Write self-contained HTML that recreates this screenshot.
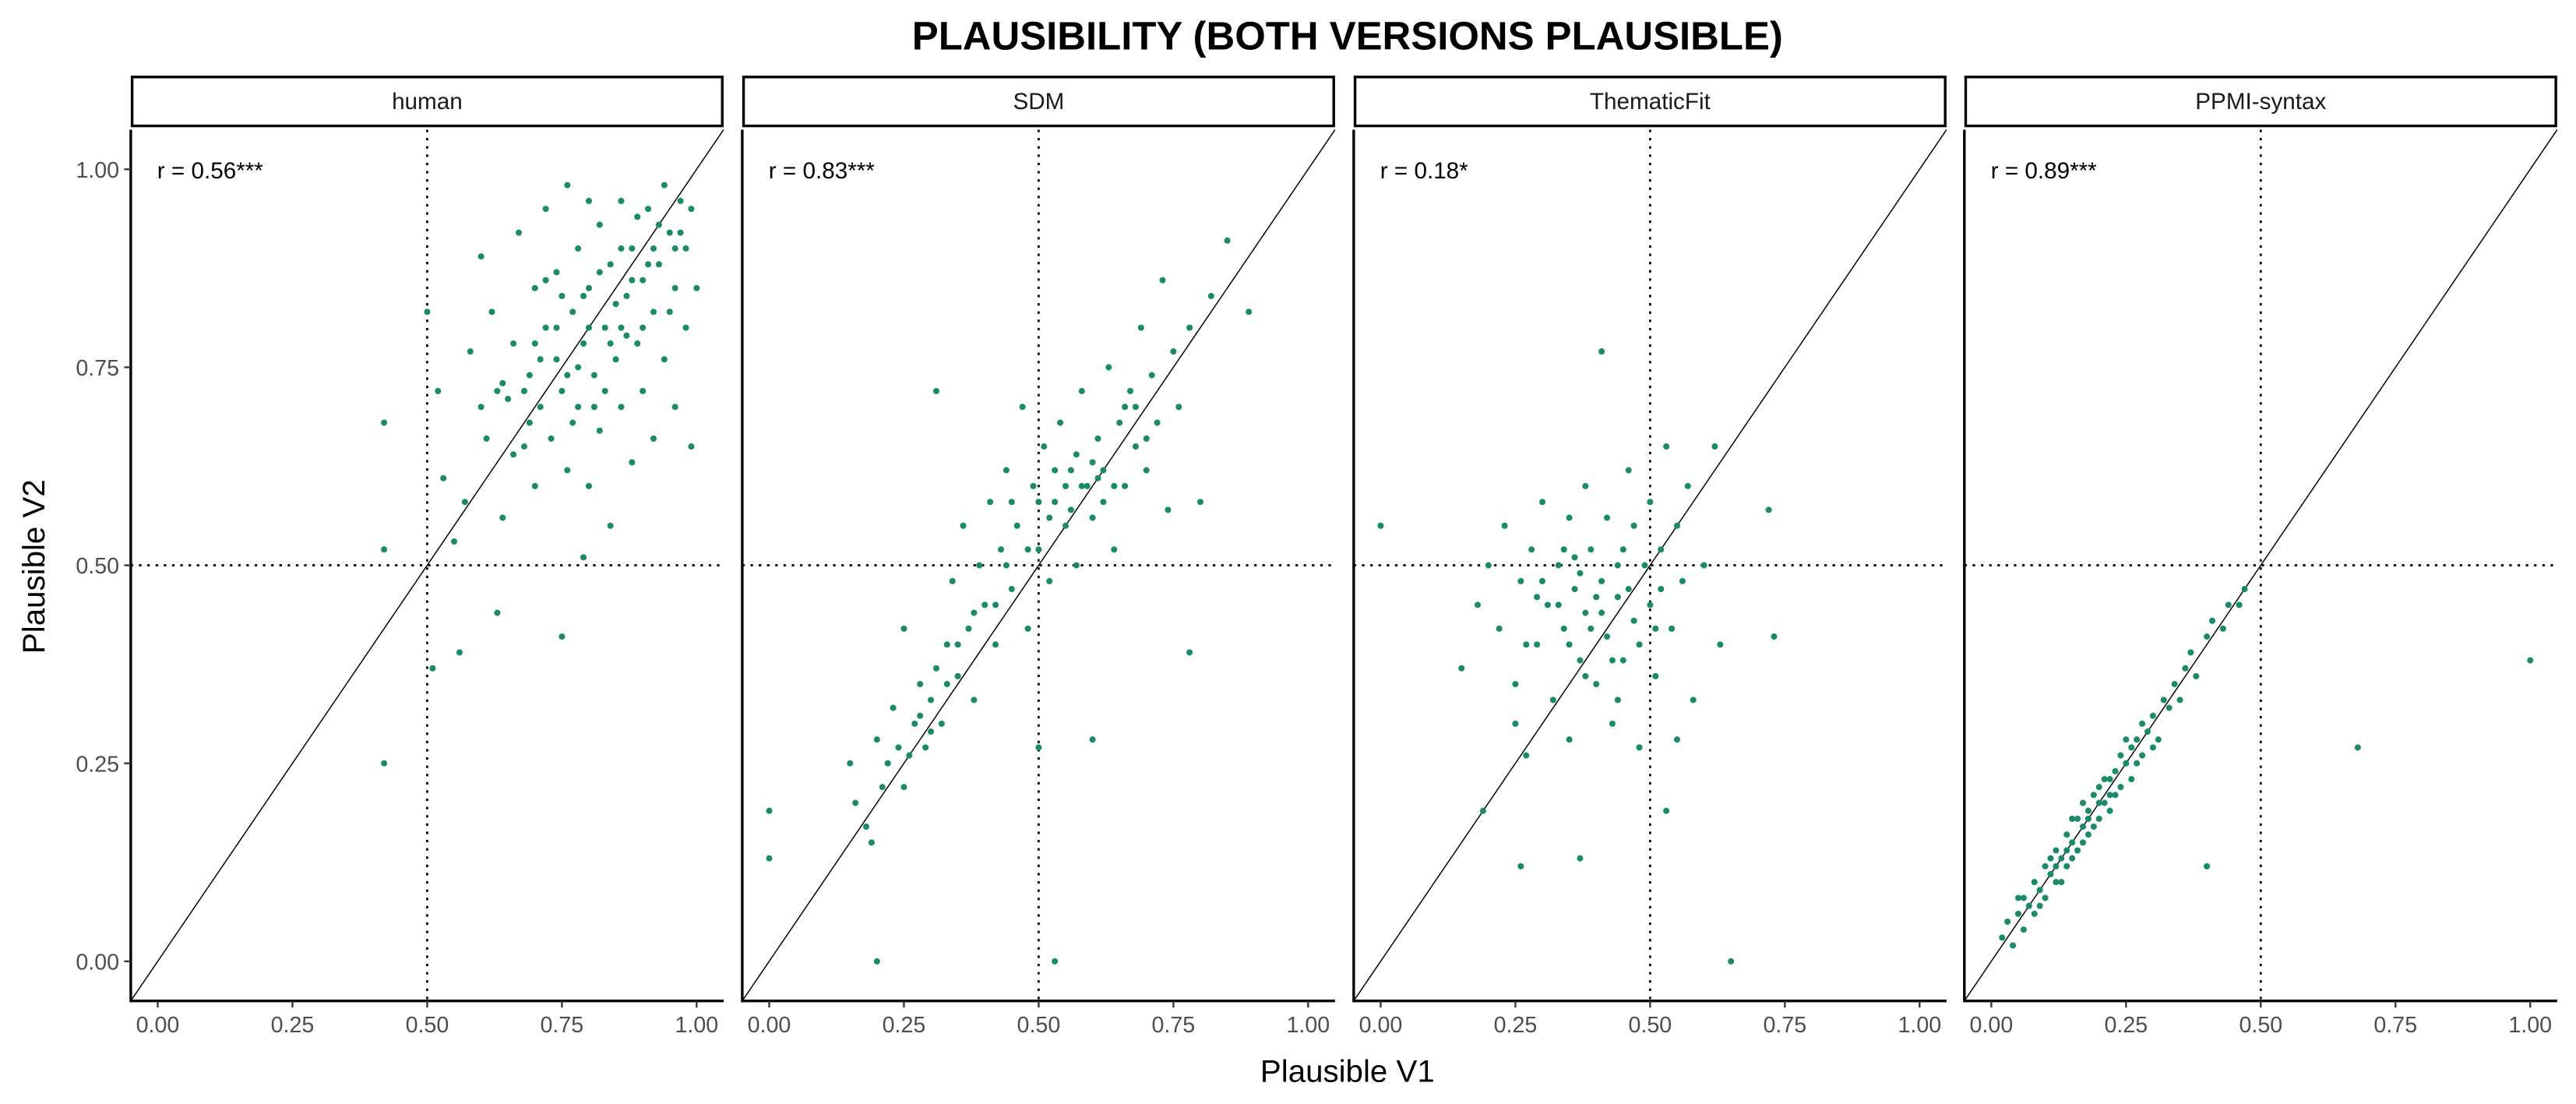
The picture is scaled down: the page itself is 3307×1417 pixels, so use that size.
<!DOCTYPE html>
<html><head><meta charset="utf-8"><style>
html,body{margin:0;padding:0;background:#fff;}
svg{display:block;font-family:"Liberation Sans",Arial,sans-serif;}
</style></head><body>
<svg id="chart" width="3307" height="1417" viewBox="0 0 1560 668.4" xmlns="http://www.w3.org/2000/svg">
<rect width="1560" height="668.4" fill="#fff"/>
<text x="816" y="30" text-anchor="middle" font-size="24" font-weight="bold">PLAUSIBILITY (BOTH VERSIONS PLAUSIBLE)</text>
<text x="816" y="655" text-anchor="middle" font-size="19">Plausible V1</text>
<text transform="translate(27,343) rotate(-90)" text-anchor="middle" font-size="19">Plausible V2</text>
<g id="panels"></g>
</svg>
<script>
const panelNames = ["human","SDM","ThematicFit","PPMI-syntax"];
const corrLabels = ["r = 0.56***","r = 0.83***","r = 0.18*","r = 0.89***"];
const tickValues = [0,0.25,0.5,0.75,1];
const tickLabels = ["0.00","0.25","0.50","0.75","1.00"];
const humanPts = [[0.42,0.68],[0.42,0.52],[0.42,0.25],[0.5,0.82],[0.51,0.37],[0.56,0.39],[0.63,0.44],[0.75,0.41],[0.79,0.51],
[0.52,0.72],[0.53,0.61],[0.55,0.53],[0.57,0.58],[0.58,0.77],[0.60,0.89],[0.60,0.70],[0.61,0.66],[0.62,0.82],[0.63,0.72],[0.64,0.56],[0.65,0.71],[0.66,0.78],[0.67,0.92],[0.68,0.65],[0.69,0.74],[0.70,0.85],[0.70,0.60],[0.71,0.70],[0.72,0.80],[0.72,0.95],[0.73,0.66],[0.74,0.76],[0.74,0.87],[0.75,0.72],[0.76,0.98],[0.76,0.62],[0.77,0.82],[0.78,0.70],[0.78,0.90],[0.79,0.78],[0.80,0.60],[0.80,0.85],[0.81,0.74],[0.82,0.93],[0.82,0.67],[0.83,0.80],[0.84,0.88],[0.84,0.55],[0.85,0.76],[0.86,0.96],[0.86,0.70],[0.87,0.84],[0.88,0.63],[0.88,0.90],[0.89,0.78],[0.90,0.86],[0.90,0.72],[0.91,0.95],[0.92,0.82],[0.92,0.66],[0.93,0.88],[0.94,0.76],[0.94,0.98],[0.95,0.92],[0.96,0.85],[0.96,0.70],[0.97,0.96],[0.98,0.90],[0.98,0.80],[0.99,0.65],[1.0,0.85],[0.85,0.83],[0.8,0.8],[0.75,0.84],[0.7,0.78],[0.88,0.86],[0.93,0.93],[0.68,0.72],[0.78,0.75],[0.83,0.72],[0.87,0.79],[0.91,0.88],[0.95,0.82],[0.72,0.86],[0.66,0.64],[0.8,0.96],[0.86,0.9],[0.77,0.68],[0.9,0.8],[0.97,0.92],[0.74,0.8],[0.82,0.87],[0.89,0.94],[0.96,0.9],[0.79,0.84],[0.84,0.78],[0.71,0.76],[0.76,0.74],[0.92,0.9],[0.99,0.95],[0.86,0.8],[0.81,0.7],[0.69,0.68],[0.64,0.73]];
const sdmPts = [[0,0.19],[0,0.13],[0.2,0],[0.53,0],[0.31,0.72],[0.5,0.27],[0.6,0.28],
[0.15,0.25],[0.16,0.20],[0.18,0.17],[0.19,0.15],[0.2,0.28],[0.22,0.25],[0.23,0.32],[0.25,0.42],[0.25,0.22],[0.27,0.30],[0.28,0.35],[0.29,0.27],[0.30,0.33],[0.31,0.37],[0.32,0.30],[0.33,0.40],[0.34,0.48],[0.35,0.36],[0.36,0.55],[0.37,0.42],[0.38,0.33],[0.39,0.50],[0.40,0.45],[0.41,0.58],[0.42,0.40],[0.43,0.52],[0.44,0.62],[0.45,0.47],[0.46,0.55],[0.47,0.70],[0.48,0.42],[0.49,0.60],[0.50,0.52],[0.51,0.65],[0.52,0.48],[0.53,0.58],[0.54,0.68],[0.55,0.55],[0.56,0.62],[0.57,0.50],[0.58,0.72],[0.59,0.60],[0.60,0.56],[0.61,0.66],[0.62,0.62],[0.63,0.75],[0.64,0.52],[0.65,0.68],[0.66,0.60],[0.67,0.72],[0.68,0.65],[0.69,0.80],[0.70,0.62],[0.71,0.74],[0.72,0.68],[0.73,0.86],[0.74,0.57],[0.75,0.77],[0.76,0.70],[0.78,0.80],[0.78,0.39],[0.80,0.58],[0.82,0.84],[0.85,0.91],[0.89,0.82],[0.24,0.27],[0.28,0.31],[0.33,0.35],[0.45,0.58],[0.52,0.56],[0.57,0.64],[0.62,0.58],[0.66,0.7],[0.55,0.6],[0.6,0.63],[0.42,0.45],[0.38,0.44],[0.3,0.29],[0.21,0.22],[0.7,0.66],[0.64,0.6],[0.53,0.62],[0.58,0.6],[0.48,0.52],[0.35,0.4],[0.26,0.26],[0.44,0.5],[0.5,0.58],[0.56,0.57],[0.61,0.61],[0.68,0.7]];
const tfPts = [[0,0.55],[0.41,0.77],[0.65,0],[0.72,0.57],[0.73,0.41],[0.19,0.19],[0.26,0.12],[0.37,0.13],[0.53,0.19],
[0.15,0.37],[0.18,0.45],[0.2,0.5],[0.22,0.42],[0.23,0.55],[0.25,0.35],[0.26,0.48],[0.27,0.26],[0.28,0.52],[0.29,0.4],[0.3,0.58],[0.31,0.45],[0.32,0.33],[0.33,0.5],[0.34,0.42],[0.35,0.56],[0.35,0.28],[0.36,0.47],[0.37,0.38],[0.38,0.6],[0.38,0.44],[0.39,0.52],[0.4,0.35],[0.41,0.48],[0.42,0.41],[0.42,0.56],[0.43,0.3],[0.44,0.46],[0.45,0.52],[0.45,0.38],[0.46,0.62],[0.47,0.43],[0.48,0.27],[0.49,0.5],[0.5,0.45],[0.5,0.58],[0.51,0.36],[0.52,0.52],[0.53,0.65],[0.54,0.42],[0.55,0.55],[0.56,0.48],[0.57,0.6],[0.58,0.33],[0.6,0.5],[0.62,0.65],[0.63,0.4],[0.33,0.45],[0.36,0.51],[0.4,0.46],[0.44,0.5],[0.3,0.48],[0.27,0.4],[0.47,0.55],[0.52,0.47],[0.39,0.42],[0.35,0.4],[0.43,0.38],[0.48,0.4],[0.25,0.3],[0.55,0.28],[0.37,0.49],[0.41,0.44],[0.46,0.47],[0.34,0.52],[0.29,0.46],[0.51,0.42],[0.44,0.33],[0.38,0.36]];
const ppmiPts = [[1.0,0.38],[0.68,0.27],[0.4,0.12],
[0.02,0.03],[0.03,0.05],[0.04,0.02],[0.05,0.06],[0.06,0.04],[0.06,0.08],[0.07,0.07],[0.08,0.1],[0.08,0.06],[0.09,0.09],[0.1,0.12],[0.1,0.08],[0.11,0.11],[0.12,0.14],[0.12,0.1],[0.13,0.13],[0.14,0.16],[0.14,0.12],[0.15,0.15],[0.15,0.18],[0.16,0.14],[0.17,0.17],[0.17,0.2],[0.18,0.16],[0.18,0.19],[0.19,0.21],[0.2,0.18],[0.2,0.22],[0.21,0.2],[0.22,0.23],[0.22,0.19],[0.23,0.24],[0.24,0.22],[0.24,0.26],[0.25,0.25],[0.26,0.27],[0.26,0.23],[0.27,0.28],[0.28,0.26],[0.28,0.3],[0.29,0.29],[0.3,0.31],[0.31,0.28],[0.32,0.33],[0.33,0.32],[0.34,0.35],[0.35,0.33],[0.36,0.37],[0.37,0.39],[0.38,0.36],[0.4,0.41],[0.41,0.43],[0.43,0.42],[0.44,0.45],[0.46,0.45],[0.47,0.47],[0.13,0.1],[0.16,0.18],[0.19,0.17],[0.21,0.23],[0.11,0.13],[0.09,0.07],[0.23,0.21],[0.25,0.28],[0.3,0.27],[0.05,0.08],[0.14,0.14],[0.17,0.15],[0.2,0.2],[0.12,0.12],[0.22,0.21],[0.18,0.18],[0.15,0.13],[0.27,0.25]];
const allPts = [humanPts, sdmPts, tfPts, ppmiPts];

const NS = "http://www.w3.org/2000/svg";
const panelLeft = [79.2,449.5,819.8,1189.6];
const PW = 359, TOP = 78.5, BOT = 606;
function mk(tag, attrs, parent){const e=document.createElementNS(NS,tag);for(const k in attrs)e.setAttribute(k,attrs[k]);parent.appendChild(e);return e;}
const root = document.getElementById("panels");
panelNames.forEach((name,i)=>{
  const L = panelLeft[i];
  const sx = v => L + (v+0.05)/1.1*PW;
  const sy = v => BOT - (v+0.05)/1.1*(BOT-TOP);
  const g = mk("g",{},root);
  
  
  const strip = mk("rect",{x:L+0.8,y:46.6,width:PW-1.6,height:29.6,fill:"#fff",stroke:"#000","stroke-width":1.6},g);
  
  
  const st = mk("text",{x:L+PW/2,y:66,"text-anchor":"middle","font-size":14,fill:"#1a1a1a"},g);
  st.textContent = name;
  
  
  const vl = mk("line",{x1:sx(0.5),x2:sx(0.5),y1:TOP,y2:BOT,stroke:"#000","stroke-width":1.3,"stroke-dasharray":"1.5 3.5"},g);
  
  
  const hl = mk("line",{x1:L,x2:L+PW,y1:sy(0.5),y2:sy(0.5),stroke:"#000","stroke-width":1.3,"stroke-dasharray":"1.5 3.5"},g);
  
  
  const dl = mk("line",{x1:sx(-0.05),y1:sy(-0.05),x2:sx(1.05),y2:sy(1.05),stroke:"#000","stroke-width":0.7},g);
  
  
  allPts[i].forEach(p=>{
    const c = mk("circle",{cx:sx(p[0]),cy:sy(p[1]),r:1.9,fill:"#1b8a6b"},g);
    
    
  });
  const rt = mk("text",{x:L+16,y:108,"font-size":14,fill:"#000"},g);
  rt.textContent = corrLabels[i];
  
  
  const ax = mk("line",{x1:L,x2:L,y1:TOP,y2:BOT+0.8,stroke:"#000","stroke-width":1.6},g);
  
  
  const bx = mk("line",{x1:L,x2:L+PW,y1:BOT,y2:BOT,stroke:"#000","stroke-width":1.6},g);
  
  
  tickValues.forEach((t,k)=>{
    const tk = mk("line",{x1:sx(t),x2:sx(t),y1:BOT,y2:BOT+4,stroke:"#333","stroke-width":1.1},g);
    
    
    const tl = mk("text",{x:sx(t),y:BOT+19,"text-anchor":"middle","font-size":13.5,fill:"#4d4d4d"},g);
    tl.textContent = tickLabels[k];
    
    
    if(i===0){
      const yt = mk("line",{x1:L-4,x2:L,y1:sy(t),y2:sy(t),stroke:"#333","stroke-width":1.1},g);
      
      
      const yl = mk("text",{x:L-7,y:sy(t)+5,"text-anchor":"end","font-size":13.5,fill:"#4d4d4d"},g);
      yl.textContent = tickLabels[k];
      
      
    }
  });
});
</script>
</body></html>
